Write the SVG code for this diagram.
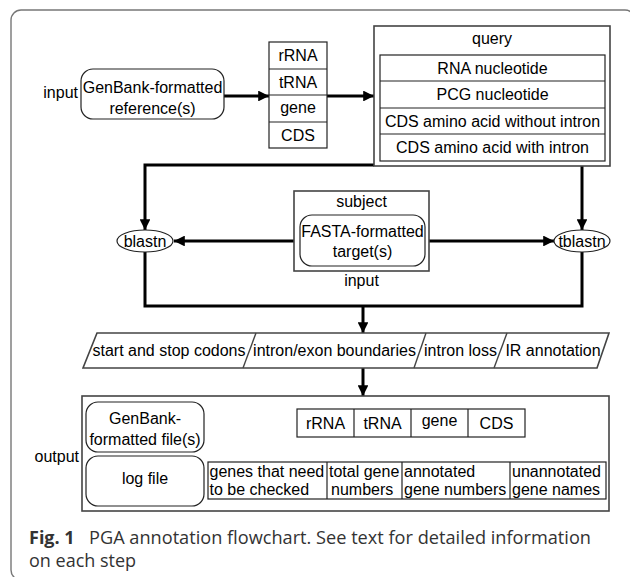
<svg xmlns="http://www.w3.org/2000/svg" width="630" height="577" viewBox="0 0 630 577">
<defs>
<marker id="ah" viewBox="0 0 10 10" refX="10" refY="5" markerWidth="3.6" markerHeight="3.6" orient="auto" markerUnits="strokeWidth">
<path d="M0,0 L10,5 L0,10 z" fill="#000"/>
</marker>
<style>
.t{font-family:"Liberation Sans",Arial,sans-serif;font-size:16px;fill:#000}
.c{text-anchor:middle}
.box{fill:#fff;stroke:#222;stroke-width:1.2}
.obox{fill:#fff;stroke:#444;stroke-width:1.6}
.rb{fill:#fff;stroke:#222;stroke-width:1.2}
.ln{fill:none;stroke:#000;stroke-width:3}
.cap{font-family:"Open Sans","Noto Sans",sans-serif;font-size:18px;fill:#333}
</style>
</defs>
<rect x="11" y="10" width="624" height="570" rx="10" fill="none" stroke="#777" stroke-width="1.4"/>

<g id="connectors">
<line class="ln" x1="224" y1="96" x2="269" y2="96" marker-end="url(#ah)"/>
<line class="ln" x1="327" y1="96" x2="374" y2="96" marker-end="url(#ah)"/>
<path class="ln" d="M374,165 H145 V230" marker-end="url(#ah)"/>
<path class="ln" d="M582,166 V230" marker-end="url(#ah)"/>
<line class="ln" x1="294" y1="241" x2="174" y2="241" marker-end="url(#ah)"/>
<line class="ln" x1="429" y1="241" x2="554" y2="241" marker-end="url(#ah)"/>
<path class="ln" d="M145,252 V306 H582 V252"/>
<line class="ln" x1="363" y1="306" x2="363" y2="333" marker-end="url(#ah)"/>
<line class="ln" x1="363" y1="368" x2="363" y2="396" marker-end="url(#ah)"/>
</g>

<g id="input-label"><text class="t" x="78" y="98" text-anchor="end">input</text></g>

<g id="genbank-ref">
<rect class="rb" x="81" y="69" width="143" height="50" rx="12"/>
<text class="t c" x="152.5" y="92.5">GenBank-formatted</text>
<text class="t c" x="152.5" y="113.5">reference(s)</text>
</g>

<g id="features">
<rect class="box" x="269" y="42" width="58" height="106"/>
<line x1="269" y1="69" x2="327" y2="69" stroke="#222" stroke-width="1.2"/>
<line x1="269" y1="95" x2="327" y2="95" stroke="#222" stroke-width="1.2"/>
<line x1="269" y1="122" x2="327" y2="122" stroke="#222" stroke-width="1.2"/>
<text class="t c" x="298" y="61">rRNA</text>
<text class="t c" x="298" y="87.5">tRNA</text>
<text class="t c" x="298" y="112.5">gene</text>
<text class="t c" x="298" y="140.5">CDS</text>
</g>

<g id="query">
<rect class="obox" x="374" y="26" width="236" height="140"/>
<text class="t c" x="492" y="44">query</text>
<rect class="box" x="380" y="55" width="225" height="106"/>
<line x1="380" y1="81" x2="605" y2="81" stroke="#222" stroke-width="1.2"/>
<line x1="380" y1="108" x2="605" y2="108" stroke="#222" stroke-width="1.2"/>
<line x1="380" y1="134" x2="605" y2="134" stroke="#222" stroke-width="1.2"/>
<text class="t c" x="492.5" y="73.5">RNA nucleotide</text>
<text class="t c" x="492.5" y="100">PCG nucleotide</text>
<text class="t c" x="492.5" y="126.5">CDS amino acid without intron</text>
<text class="t c" x="492.5" y="153">CDS amino acid with intron</text>
</g>

<g id="blastn">
<ellipse cx="145" cy="241" rx="28" ry="11" fill="#fff" stroke="#222" stroke-width="1.2"/>
<text class="t c" x="145" y="246.5">blastn</text>
</g>

<g id="tblastn">
<ellipse cx="582" cy="241" rx="28" ry="11" fill="#fff" stroke="#222" stroke-width="1.2"/>
<text class="t c" x="582" y="246.5">tblastn</text>
</g>

<g id="subject">
<rect class="obox" x="294" y="191" width="135" height="80"/>
<text class="t c" x="361.5" y="207">subject</text>
<rect class="rb" x="300" y="215" width="125" height="51" rx="12"/>
<text class="t c" x="362.5" y="237">FASTA-formatted</text>
<text class="t c" x="362.5" y="256.5">target(s)</text>
<text class="t c" x="361.5" y="286">input</text>
</g>

<g id="steps">
<polygon points="97,333 609,333 597,368 83,368" fill="#fff" stroke="#444" stroke-width="1.6"/>
<line x1="256" y1="333" x2="243" y2="368" stroke="#444" stroke-width="1.4"/>
<line x1="426" y1="333" x2="414" y2="368" stroke="#444" stroke-width="1.4"/>
<line x1="507" y1="333" x2="494" y2="368" stroke="#444" stroke-width="1.4"/>
<text class="t c" x="169" y="355.5">start and stop codons</text>
<text class="t c" x="334.5" y="355.5">intron/exon boundaries</text>
<text class="t c" x="460.5" y="355.5">intron loss</text>
<text class="t c" x="553" y="355.5">IR annotation</text>
</g>

<g id="output">
<text class="t" x="79" y="462" text-anchor="end">output</text>
<rect class="obox" x="82" y="396" width="527" height="115"/>
<rect class="rb" x="86" y="402" width="118" height="50" rx="12"/>
<text class="t c" x="145" y="423.5">GenBank-</text>
<text class="t c" x="145" y="444.5">formatted file(s)</text>
<rect class="rb" x="86" y="456" width="118" height="50" rx="12"/>
<text class="t c" x="145" y="484">log file</text>
<rect class="box" x="297" y="409" width="228" height="28"/>
<line x1="354" y1="409" x2="354" y2="437" stroke="#222" stroke-width="1.2"/>
<line x1="411" y1="409" x2="411" y2="437" stroke="#222" stroke-width="1.2"/>
<line x1="468" y1="409" x2="468" y2="437" stroke="#222" stroke-width="1.2"/>
<text class="t c" x="325.5" y="428.5">rRNA</text>
<text class="t c" x="382.5" y="428.5">tRNA</text>
<text class="t c" x="439.5" y="426">gene</text>
<text class="t c" x="496.5" y="428.5">CDS</text>
<rect class="box" x="208" y="462" width="398" height="37"/>
<line x1="327" y1="462" x2="327" y2="499" stroke="#222" stroke-width="1.2"/>
<line x1="402" y1="462" x2="402" y2="499" stroke="#222" stroke-width="1.2"/>
<line x1="510" y1="462" x2="510" y2="499" stroke="#222" stroke-width="1.2"/>
<text class="t" x="209.5" y="477">genes that need</text>
<text class="t" x="209.5" y="495">to be checked</text>
<text class="t" x="329" y="477">total gene</text>
<text class="t" x="331" y="495">numbers</text>
<text class="t" x="404" y="477">annotated</text>
<text class="t" x="404" y="495">gene numbers</text>
<text class="t" x="512" y="477">unannotated</text>
<text class="t" x="512" y="495">gene names</text>
</g>

<g id="caption">
<text class="cap" x="29" y="544"><tspan font-weight="bold">Fig. 1</tspan></text>
<text class="cap" x="89" y="544" textLength="502" lengthAdjust="spacingAndGlyphs">PGA annotation flowchart. See text for detailed information</text>
<text class="cap" x="29" y="567">on each step</text>
</g>
</svg>
